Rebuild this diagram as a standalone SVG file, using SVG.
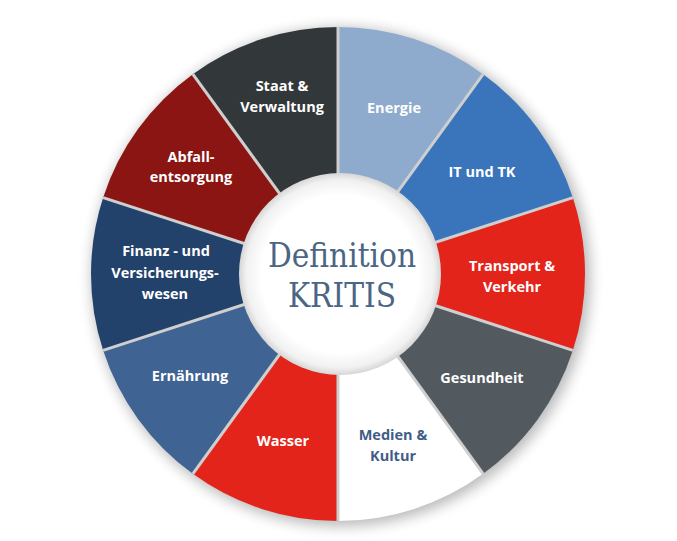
<svg xmlns="http://www.w3.org/2000/svg" width="677" height="541" viewBox="0 0 677 541">
<defs>
<style>
.lbl{font-family:"Open Sans","Liberation Sans",sans-serif;font-size:14.5px;font-weight:700;fill:#ffffff;text-anchor:middle}
.dark{fill:#3f5e87}
.sep{stroke:#cfcfcf;stroke-width:3;fill:none}
.ctr{font-family:"DejaVu Serif","Liberation Serif",serif;font-stretch:condensed;font-size:33px;fill:#4b6584;text-anchor:middle}
</style>
<filter id="shadow" x="-20%" y="-20%" width="140%" height="140%">
<feGaussianBlur stdDeviation="7"/>
</filter>
<radialGradient id="inner" cx="0.5" cy="0.5" r="0.5">
<stop offset="0.78" stop-color="#ffffff"/>
<stop offset="0.93" stop-color="#f1f1f1"/>
<stop offset="1" stop-color="#d6d6d6"/>
</radialGradient>
</defs>
<rect width="677" height="541" fill="#ffffff"/>
<circle cx="341" cy="277" r="249" fill="#000000" opacity="0.28" filter="url(#shadow)"/>
<g id="energie">
<path d="M338 274 L338 27 A247 247 0 0 1 483.18 74.17 Z" fill="#8eaacd"/>
<text class="lbl" x="394" y="113">Energie</text>
</g>
<g id="it-tk">
<path d="M338 274 L483.18 74.17 A247 247 0 0 1 572.91 197.67 Z" fill="#3a74ba"/>
<text class="lbl" x="482" y="177">IT und TK</text>
</g>
<g id="transport">
<path d="M338 274 L572.91 197.67 A247 247 0 0 1 572.91 350.33 Z" fill="#e3241b"/>
<text class="lbl" x="512" y="271">Transport &amp;</text>
<text class="lbl" x="512" y="292">Verkehr</text>
</g>
<g id="gesundheit">
<path d="M338 274 L572.91 350.33 A247 247 0 0 1 483.18 473.83 Z" fill="#525a60"/>
<text class="lbl" x="482" y="383">Gesundheit</text>
</g>
<g id="medien">
<path d="M338 274 L483.18 473.83 A247 247 0 0 1 338 521 Z" fill="#ffffff"/>
<text class="lbl dark" x="393" y="440">Medien &amp;</text>
<text class="lbl dark" x="393" y="461">Kultur</text>
</g>
<g id="wasser">
<path d="M338 274 L338 521 A247 247 0 0 1 192.82 473.83 Z" fill="#e3241b"/>
<text class="lbl" x="283" y="446">Wasser</text>
</g>
<g id="ernaehrung">
<path d="M338 274 L192.82 473.83 A247 247 0 0 1 103.09 350.33 Z" fill="#3f6392"/>
<text class="lbl" x="190" y="381">Ernährung</text>
</g>
<g id="finanz">
<path d="M338 274 L103.09 350.33 A247 247 0 0 1 103.09 197.67 Z" fill="#23426b"/>
<text class="lbl" x="166" y="256">Finanz - und</text>
<text class="lbl" x="165" y="278">Versicherungs-</text>
<text class="lbl" x="165" y="299">wesen</text>
</g>
<g id="abfall">
<path d="M338 274 L103.09 197.67 A247 247 0 0 1 192.82 74.17 Z" fill="#8a1512"/>
<text class="lbl" x="191" y="162">Abfall-</text>
<text class="lbl" x="191" y="182">entsorgung</text>
</g>
<g id="staat">
<path d="M338 274 L192.82 74.17 A247 247 0 0 1 338 27 Z" fill="#32373a"/>
<text class="lbl" x="282" y="91">Staat &amp;</text>
<text class="lbl" x="282" y="112">Verwaltung</text>
</g>
<g id="connectors">
<line class="sep" x1="338" y1="274" x2="338" y2="27"/>
<line class="sep" x1="338" y1="274" x2="483.18" y2="74.17"/>
<line class="sep" x1="338" y1="274" x2="572.91" y2="197.67"/>
<line class="sep" x1="338" y1="274" x2="572.91" y2="350.33"/>
<line class="sep" x1="338" y1="274" x2="483.18" y2="473.83"/>
<line class="sep" x1="338" y1="274" x2="338" y2="521"/>
<line class="sep" x1="338" y1="274" x2="192.82" y2="473.83"/>
<line class="sep" x1="338" y1="274" x2="103.09" y2="350.33"/>
<line class="sep" x1="338" y1="274" x2="103.09" y2="197.67"/>
<line class="sep" x1="338" y1="274" x2="192.82" y2="74.17"/>
</g>
<g id="center">
<circle cx="340" cy="274" r="101" fill="url(#inner)"/>
<text class="ctr" x="342" y="267">Definition</text>
<text class="ctr" x="342" y="307">KRITIS</text>
</g>
</svg>
